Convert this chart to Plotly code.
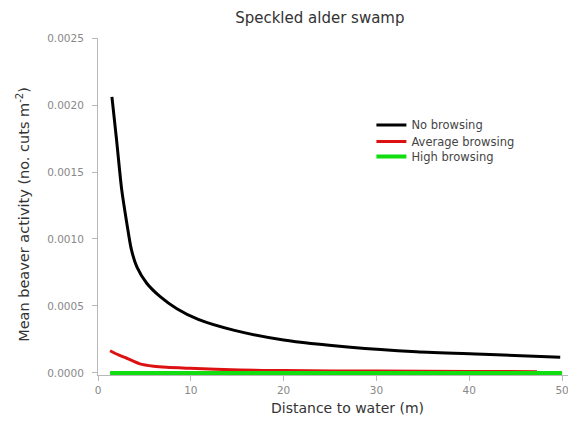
import plotly.graph_objects as go

# Data
x_none = [1.5, 2.0, 2.55, 3.1, 3.6, 4.2, 5.25, 6.7, 8.5, 10.8, 14.6, 20, 27.2, 34.3, 41.5, 49.8]
y_none = [0.00206, 0.00174, 0.00137, 0.00112, 0.00092, 0.00079, 0.00067, 0.00057, 0.00048,
          0.00040, 0.00032, 0.000246, 0.000192, 0.000159, 0.00014, 0.000117]

x_avg = [1.3, 2.2, 3.1, 4.5, 6, 7.4, 9.9, 15.3, 20, 30, 40, 47.3]
y_avg = [0.000166, 0.000135, 0.00011, 0.000068, 0.00005, 0.000042, 0.000035, 0.000022,
         0.000018, 0.000014, 0.000012, 0.00001]

x_high = [1.3, 10, 20, 30, 40, 50]
y_high = [0, 0, 0, 0, 0, 0]

series_names = ["No browsing", "Average browsing", "High browsing"]
x_ticks = [0, 10, 20, 30, 40, 50]
y_ticks = [0, 0.0005, 0.0010, 0.0015, 0.0020, 0.0025]
y_tick_text = ["0.0000", "0.0005", "0.0010", "0.0015", "0.0020", "0.0025"]

FONT = "DejaVu Sans"

fig = go.Figure()
fig.add_trace(go.Scatter(x=x_none, y=y_none, mode="lines", name=series_names[0], legend="legend",
                         line=dict(color="#000000", width=3, shape="spline", smoothing=0.7)))
fig.add_trace(go.Scatter(x=x_avg, y=y_avg, mode="lines", name=series_names[1], legend="legend2",
                         line=dict(color="#dd1111", width=3, shape="spline", smoothing=0.7)))
fig.add_trace(go.Scatter(x=x_high, y=y_high, mode="lines", name=series_names[2], legend="legend3",
                         line=dict(color="#11dd11", width=4)))

axis_common = dict(showgrid=False, zeroline=False, showline=True, linecolor="#b8b8b8",
                   linewidth=1, ticks="outside", ticklen=5, tickcolor="#b8b8b8",
                   tickfont=dict(family=FONT, size=10.5, color="#888888"))

leg_common = dict(x=0.572, xanchor="left", yanchor="middle", bgcolor="rgba(0,0,0,0)",
                  font=dict(family=FONT, size=11.5, color="#444444"), itemwidth=30)

# The page body adds an 8px offset, so the figure is sized 8px smaller
fig.update_layout(
    width=568, height=415,
    paper_bgcolor="white", plot_bgcolor="white",
    margin=dict(l=90, r=0, t=30, b=48, autoexpand=False),
    title=dict(text="Speckled alder swamp", x=0.549, xanchor="center", y=0.976, yanchor="middle",
               font=dict(family=FONT, size=15, color="#333333")),
    xaxis=dict(range=[0, 51.5], tickvals=x_ticks, automargin=False, **axis_common),
    yaxis=dict(range=[-0.000015, 0.0025], tickvals=y_ticks, ticktext=y_tick_text, automargin=False,
               ticklabelstandoff=6, **axis_common),
    annotations=[
        dict(text="Distance to water (m)", xref="paper", yref="paper", x=0.521, y=-0.098,
             xanchor="center", yanchor="middle", showarrow=False,
             font=dict(family=FONT, size=14, color="#333333")),
        dict(text="Mean beaver activity (no. cuts m<sup>-2</sup>)", xref="paper", yref="paper",
             x=-0.157, y=0.478, xanchor="center", yanchor="middle", showarrow=False,
             textangle=-90, font=dict(family=FONT, size=14.5, color="#333333")),
    ],
    legend=dict(y=0.742, **leg_common),
    legend2=dict(y=0.693, **leg_common),
    legend3=dict(y=0.648, **leg_common),
    showlegend=True,
)

fig.write_html("out.html")
